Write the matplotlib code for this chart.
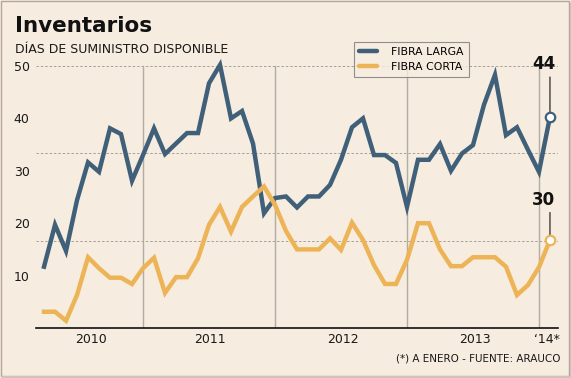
import matplotlib.pyplot as plt
from matplotlib.lines import Line2D
from matplotlib.patches import Rectangle
import numpy as np

# monthly values (last point = enero 2014)
fibra_larga = [11.7, 19.7, 14.7, 24.4, 31.6, 29.8, 38.1, 37.0, 28.1, 33.0,
               38.1, 33.2, 35.2, 37.2, 37.2, 46.7, 50.2, 40.0, 41.4, 35.2,
               21.9, 24.8, 25.1, 23.0, 25.1, 25.1, 27.3, 32.1, 38.3, 40.0,
               33.0, 33.0, 31.5, 23.1, 32.1, 32.1, 35.1, 30.0, 33.3, 34.9,
               42.6, 48.3, 36.8, 38.3, 34.0, 29.8, 40.3]
fibra_corta = [3.1, 3.1, 1.4, 6.3, 13.5, 11.4, 9.6, 9.6, 8.4, 11.4,
               13.4, 6.7, 9.7, 9.7, 13.3, 19.7, 23.1, 18.4, 23.1, 25.1,
               27.0, 23.5, 18.5, 15.0, 15.0, 15.0, 17.1, 14.9, 20.1, 16.8,
               12.0, 8.4, 8.4, 13.0, 20.0, 20.0, 15.0, 11.8, 11.8, 13.5,
               13.5, 13.5, 11.7, 6.3, 8.2, 11.6, 16.8]
series_names = ['FIBRA LARGA', 'FIBRA CORTA']
end_labels = ['44', '30']
year_labels = ['2010', '2011', '2012', '2013', '\u201814*']
y_ticks = [10, 20, 30, 40, 50]

# layout
year_pos = [4.25, 15.1, 27.2, 39.2, 45.7]
year_breaks = [9, 21, 33, 45]
bg = '#f6ecdf'
c_larga = '#40607a'
c_corta = '#edb457'

W, H = 571, 378
fig = plt.figure(figsize=(W / 100, H / 100), dpi=100, facecolor=bg)
ax = fig.add_axes([36 / W, 50 / H, 522 / W, 272.5 / H])
ax.set_facecolor(bg)

x = np.arange(len(fibra_larga))

# grid: dashed horizontals and year separators
for g in np.array([1, 2, 3]) * 50 / 3:
    ax.axhline(g, color='#a5a09a', lw=0.7, ls=(0, (2.5, 2)), zorder=1)
for b in year_breaks:
    ax.plot([b, b], [0, 50], color='#b0aca6', lw=1.0, zorder=1)

ax.plot(x, fibra_larga, color=c_larga, lw=3.2, solid_joinstyle='miter', zorder=3)
ax.plot(x, fibra_corta, color=c_corta, lw=3.2, solid_joinstyle='miter', zorder=3)

# end points + callouts
for vals, col, lab, toff in [(fibra_larga, c_larga, end_labels[0], 37.7),
                             (fibra_corta, c_corta, end_labels[1], 28.8)]:
    xe, ye = x[-1], vals[-1]
    ax.plot(xe, ye, 'o', ms=6.8, mfc='white', mec=col, mew=1.6, zorder=5)
    ax.annotate('', xy=(xe, ye), xytext=(0, toff - 9), textcoords='offset points',
                arrowprops=dict(arrowstyle='-', lw=0.8, color='#111111',
                                shrinkA=0, shrinkB=3.6))
    ax.annotate(lab, xy=(xe, ye), xytext=(-4.6, toff), textcoords='offset points',
                ha='center', va='center', fontsize=12, fontweight='bold', color='#111111')

ax.set_xlim(-0.73, 46.73)
ax.set_ylim(0, 52)
ax.set_yticks(y_ticks)
ax.set_yticklabels([str(v) for v in y_ticks])
ax.set_xticks(year_pos)
ax.set_xticklabels(year_labels)
ax.tick_params(axis='y', length=0, pad=4.5, labelsize=9, labelcolor='#1a1a1a')
ax.tick_params(axis='x', length=0, pad=3.5, labelsize=9, labelcolor='#1a1a1a')

for s in ['top', 'right', 'left']:
    ax.spines[s].set_visible(False)
ax.spines['bottom'].set_linewidth(1.2)
ax.spines['bottom'].set_color('#111111')

handles = [Line2D([], [], color=c_larga, lw=3.2, solid_capstyle='round'),
           Line2D([], [], color=c_corta, lw=3.2, solid_capstyle='round')]
leg = ax.legend(handles, series_names, loc='upper left',
                bbox_to_anchor=(354 / W, 1 - 41.7 / H), bbox_transform=fig.transFigure,
                fontsize=7.8, frameon=True, fancybox=False, borderaxespad=0,
                handlelength=1.6, handletextpad=1.3, labelspacing=0.45,
                borderpad=0.5)
leg.get_frame().set_facecolor(bg)
leg.get_frame().set_edgecolor('#777777')
leg.get_frame().set_linewidth(0.8)
leg.set_zorder(6)

fig.text(15 / W, 1 - 32.3 / H, 'Inventarios', fontsize=15.5, fontweight='bold',
         color='#111111', va='baseline')
fig.text(15 / W, 1 - 53.3 / H, 'DÍAS DE SUMINISTRO DISPONIBLE', fontsize=9,
         color='#1a1a1a', va='baseline')
fig.text(560 / W, 1 - 361.7 / H, '(*) A ENERO - FUENTE: ARAUCO', fontsize=7.5,
         color='#1a1a1a', ha='right', va='baseline')

# outer frame with a light shadow on the right/bottom
fig.patches.append(Rectangle((0.5 / W, 2.5 / H), 568 / W, 375 / H, transform=fig.transFigure,
                             fill=False, ec='#b5a59c', lw=1.0))
fig.patches.append(Rectangle((569.5 / W, 0), 1.5 / W, 375 / H, transform=fig.transFigure,
                             fc='#cfc3bb', ec='none'))
fig.patches.append(Rectangle((2 / W, 0), 569 / W, 2 / H, transform=fig.transFigure,
                             fc='#cfc3bb', ec='none'))

plt.savefig('out.png', dpi=100, facecolor=bg)
